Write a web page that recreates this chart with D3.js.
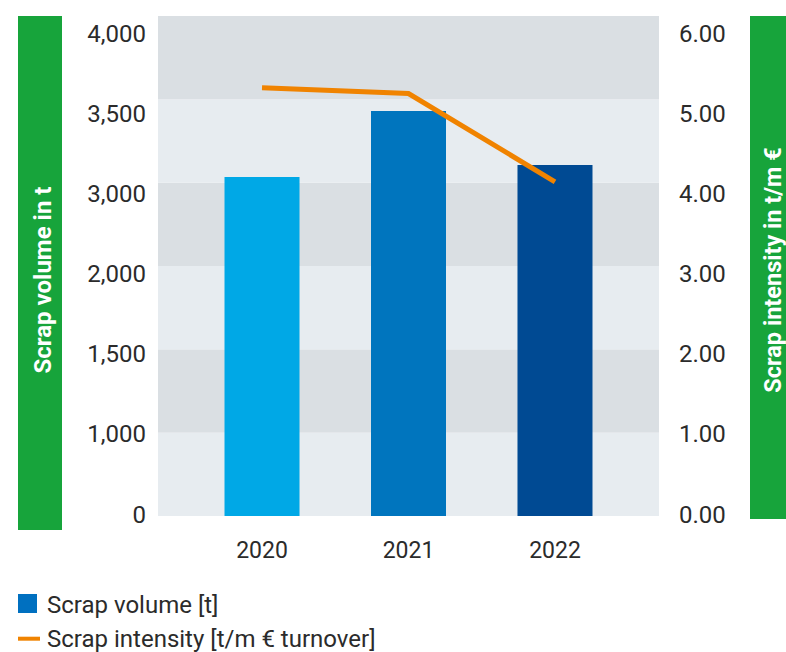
<!DOCTYPE html>
<html>
<head>
<meta charset="utf-8">
<script src="https://cdn.jsdelivr.net/npm/d3@7"></script>
<style>
  html, body { margin: 0; padding: 0; background: #fff; }
  svg { display: block; }
  text { font-family: Roboto, "Noto Sans", sans-serif; }
</style>
</head>
<body>
<svg id="chart" width="786" height="652"></svg>
<script>
// Scrap volume and scrap intensity per year
const years = ["2020", "2021", "2022"];
const scrapVolume = [2034, 2430, 2106];          // t
const scrapIntensity = [5.14, 5.07, 4.01];       // t/m € turnover
const barColors = ["#00a8e6", "#0075be", "#004a93"];

const leftTickValues = [0, 500, 1000, 1500, 2000, 2500, 3000];
const leftTickLabels = ["0", "1,000", "1,500", "2,000", "3,000", "3,500", "4,000"];
const rightTickValues = [0, 1, 2, 3, 4, 5, 6];
const rightTickLabels = ["0.00", "1.00", "2.00", "3.00", "4.00", "5.00", "6.00"];

const leftTitle = "Scrap volume in t";
const rightTitle = "Scrap intensity in t/m €";
const legendItems = ["Scrap volume [t]", "Scrap intensity [t/m € turnover]"];

const svg = d3.select("#chart");
const plot = { left: 158, right: 659, top: 16, bottom: 516 };
const green = "#17a43b";
const textColor = "#2b2b2b";

const x = d3.scaleBand().domain(years)
  .range([plot.left, plot.right]).paddingInner(0.488).paddingOuter(0.454);
const yVol = d3.scaleLinear().domain([0, 3000]).range([plot.bottom, plot.top]);
const yInt = d3.scaleLinear().domain([0, 6]).range([plot.bottom, plot.top]);
// tick labels sit slightly inside the band edges
const yVolLabels = d3.scaleLinear().domain([0, 3000]).range([513.5, 32.5]);
const yIntLabels = d3.scaleLinear().domain([0, 6]).range([513.5, 32.5]);

// alternating background bands
svg.append("g").selectAll("rect")
  .data(d3.range(6))
  .join("rect")
  .attr("x", plot.left)
  .attr("width", plot.right - plot.left)
  .attr("y", d => yInt(d + 1))
  .attr("height", d => yInt(d) - yInt(d + 1))
  .attr("fill", d => d % 2 === 1 ? "#dadfe3" : "#e7ecf0");

// axis title panels
svg.append("rect").attr("x", 18).attr("y", 16).attr("width", 44).attr("height", 514).attr("fill", green);
svg.append("rect").attr("x", 750).attr("y", 16).attr("width", 45).attr("height", 503).attr("fill", green);

svg.append("text")
  .attr("transform", "translate(42,280) rotate(-90)")
  .attr("text-anchor", "middle").attr("dy", "0.36em")
  .attr("font-size", 24).attr("font-weight", 700).attr("fill", "#fff")
  .text(leftTitle);
svg.append("text")
  .attr("transform", "translate(773,270) rotate(-90)")
  .attr("text-anchor", "middle").attr("dy", "0.36em")
  .attr("font-size", 23.5).attr("font-weight", 700).attr("fill", "#fff")
  .text(rightTitle);

// bars
svg.append("g").selectAll("rect")
  .data(years)
  .join("rect")
  .attr("x", d => x(d))
  .attr("width", x.bandwidth())
  .attr("y", (d, i) => yVol(scrapVolume[i]))
  .attr("height", (d, i) => yVol(0) - yVol(scrapVolume[i]))
  .attr("fill", (d, i) => barColors[i]);

// intensity line
const line = d3.line()
  .x((d, i) => x(years[i]) + x.bandwidth() / 2)
  .y(d => yInt(d));
svg.append("path")
  .datum(scrapIntensity)
  .attr("d", line)
  .attr("fill", "none")
  .attr("stroke", "#f08300")
  .attr("stroke-width", 5);

// axes
const leftAxis = svg.append("g")
  .attr("transform", "translate(146,0)")
  .call(d3.axisLeft(yVolLabels).tickValues(leftTickValues)
    .tickFormat((d, i) => leftTickLabels[i]).tickSize(0).tickPadding(0));
const rightAxis = svg.append("g")
  .attr("transform", "translate(679,0)")
  .call(d3.axisRight(yIntLabels).tickValues(rightTickValues)
    .tickFormat((d, i) => rightTickLabels[i]).tickSize(0).tickPadding(0));
const bottomAxis = svg.append("g")
  .attr("transform", "translate(0,558)")
  .call(d3.axisBottom(x).tickSize(0).tickPadding(0));

[leftAxis, rightAxis].forEach(g => {
  g.select(".domain").remove();
  g.selectAll("text")
    .attr("font-size", 24).attr("font-family", "Roboto, sans-serif")
    .attr("fill", textColor).attr("dy", "0.355em");
});
bottomAxis.select(".domain").remove();
bottomAxis.selectAll("text")
  .attr("font-size", 23).attr("font-family", "Roboto, sans-serif")
  .attr("fill", textColor).attr("dy", 0).attr("y", 0);

// legend
const legend = svg.append("g");
legend.append("rect").attr("x", 18).attr("y", 594).attr("width", 19).attr("height", 19).attr("fill", "#0070c0");
legend.append("text").attr("x", 47).attr("y", 613)
  .attr("font-size", 24).attr("fill", textColor).text(legendItems[0]);
legend.append("line").attr("x1", 18).attr("x2", 40).attr("y1", 638.7).attr("y2", 638.7)
  .attr("stroke", "#f08300").attr("stroke-width", 4);
legend.append("text").attr("x", 47).attr("y", 646.5)
  .attr("font-size", 24).attr("fill", textColor).text(legendItems[1]);
</script>
</body>
</html>
